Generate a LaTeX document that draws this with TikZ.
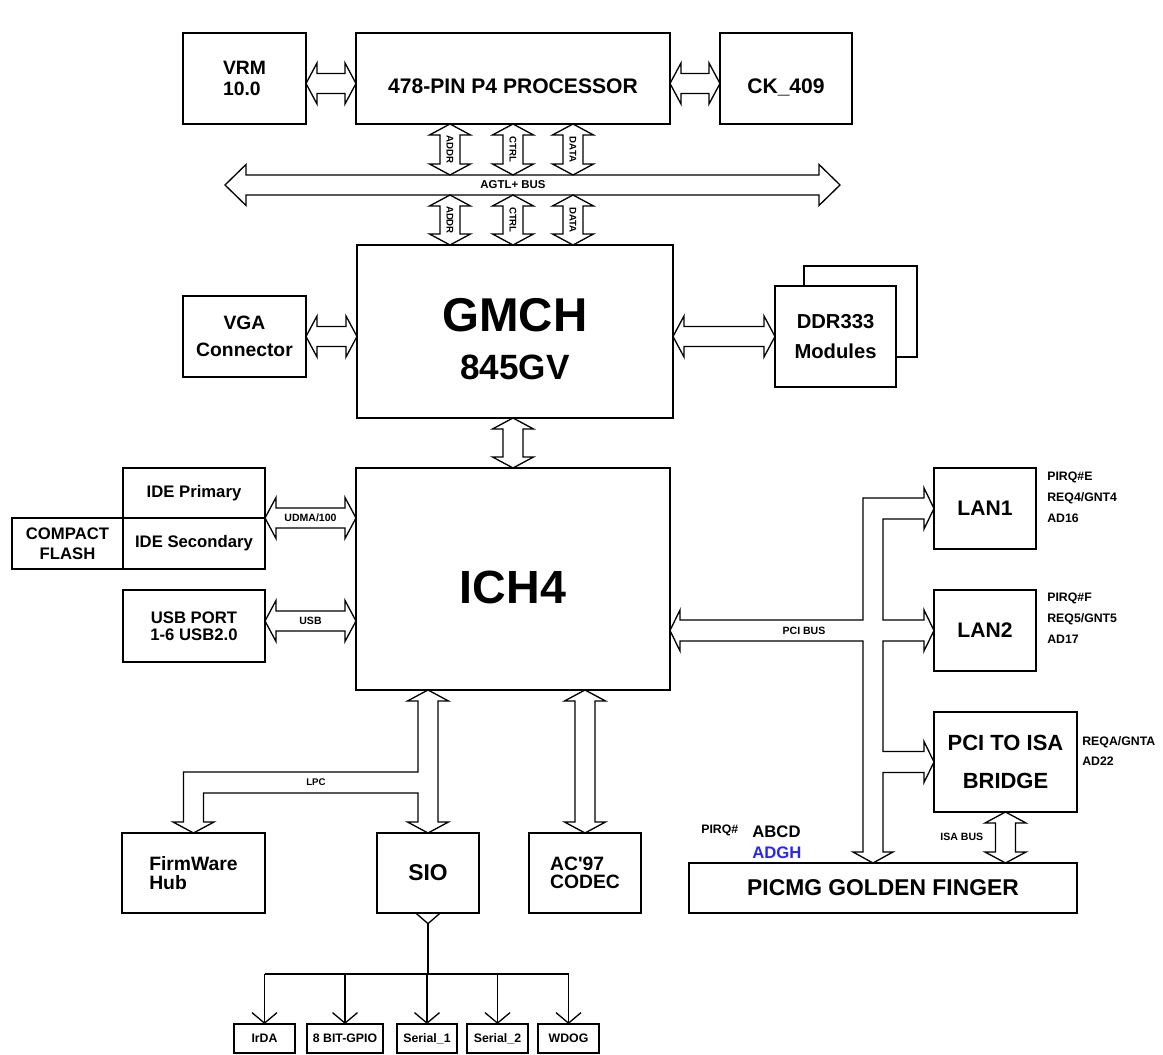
\documentclass[tikz,border=0pt]{standalone}
\usepackage{fontspec}
\setmainfont{Liberation Sans}[Ligatures=TeXOff]
\usetikzlibrary{arrows.meta, positioning, calc}
\definecolor{pinblue}{RGB}{40,40,235}
\newcommand{\fsz}[2]{\fontsize{#1}{#2}\selectfont}
\newcommand{\bushl}{0.22cm}
\newcommand{\busw}{0.2cm}
\newcommand{\busW}{0.41cm}

\begin{document}
\begin{tikzpicture}[
    node distance=1cm,
    box/.style={rectangle, draw=black, line width=0.75pt, fill=white, inner sep=0pt, outer sep=0pt, align=center},
    kid/.style={box, minimum height=0.58cm, font=\bfseries\fsz{7}{8}},
    lbl/.style={inner sep=0pt, font=\bfseries\fsz{6}{7}},
    note/.style={inner sep=0pt, align=left, font=\bfseries\fsz{7}{11.7}},
    hollow/.style={draw=black, line width=0.75pt, fill=white, line join=miter},
    bus head/.code={\def\bushl{#1}},
    bus/.style={hollow, to path={
      (\tikztostart)
      -- ($(\tikztostart)!\bushl!(\tikztotarget)!\busW!90:(\tikztotarget)$)
      -- ($(\tikztostart)!\bushl!(\tikztotarget)!\busw!90:(\tikztotarget)$)
      -- ($(\tikztotarget)!\bushl!(\tikztostart)!\busw!-90:(\tikztostart)$)
      -- ($(\tikztotarget)!\bushl!(\tikztostart)!\busW!-90:(\tikztostart)$)
      -- (\tikztotarget)
      -- ($(\tikztotarget)!\bushl!(\tikztostart)!\busW!90:(\tikztostart)$)
      -- ($(\tikztotarget)!\bushl!(\tikztostart)!\busw!90:(\tikztostart)$)
      -- ($(\tikztostart)!\bushl!(\tikztotarget)!\busw!-90:(\tikztotarget)$)
      -- ($(\tikztostart)!\bushl!(\tikztotarget)!\busW!-90:(\tikztotarget)$)
      -- cycle}},
    fanarrow/.style={line width=0.75pt, -{Straight Barb[length=2.1mm, width=5mm]}}
  ]

  \useasboundingbox (0,0) rectangle (23.26,21.10);

  % processor row
  \node[box, minimum width=2.46cm, minimum height=1.82cm, align=left, font=\bfseries\fsz{11}{11.5}] (vrm) at (4.89,19.53) {VRM\\10.0};
  \node[box, minimum width=6.28cm, minimum height=1.82cm, text height=17pt, text depth=0pt, font=\bfseries\fsz{12}{14}, right=of vrm] (cpu) {478-PIN P4 PROCESSOR};
  \node[box, minimum width=2.64cm, minimum height=1.82cm, text height=17pt, text depth=0pt, font=\bfseries\fsz{12}{14}, right=of cpu] (ck) {CK\_409};

  % north bridge
  \node[box, minimum width=6.32cm, minimum height=3.46cm, text height=55pt, text depth=0pt, font=\bfseries\fsz{20}{27.3}] (gmch) at (10.30,14.47) {{\fsz{27}{27.3}GMCH}\\845GV};
  \node[box, minimum width=2.46cm, minimum height=1.62cm, font=\bfseries\fsz{11}{15}] (vga) at (4.89,14.37) {VGA\\Connector};
  \node[box, minimum width=2.26cm, minimum height=1.82cm] (ddrback) at (17.21,14.87) {};
  \node[box, minimum width=2.42cm, minimum height=2.02cm, font=\bfseries\fsz{11.5}{17}] (ddr) at (16.71,14.37) {DDR333\\Modules};

  % south bridge
  \node[box, minimum width=6.28cm, minimum height=4.44cm, text height=28pt, text depth=0pt, font=\bfseries\fsz{26.5}{30}] (ich) at (10.26,9.52) {ICH4};
  \node[box, minimum width=2.84cm, minimum height=1.0cm, font=\bfseries\fsz{9.5}{11}] (idep) at (3.88,11.24) {IDE Primary};
  \node[box, minimum width=2.84cm, minimum height=1.02cm, font=\bfseries\fsz{9.5}{11}, below=0pt of idep] (ides) {IDE Secondary};
  \node[box, minimum width=2.22cm, minimum height=1.02cm, font=\bfseries\fsz{9.5}{11.5}, left=0pt of ides] (cf) {COMPACT\\FLASH};
  \node[box, minimum width=2.84cm, minimum height=1.44cm, font=\bfseries\fsz{9.5}{9.5}, below=0.42cm of ides] (usb) {USB PORT\\1-6 USB2.0};

  % pci devices
  \node[box, minimum width=2.04cm, minimum height=1.62cm, font=\bfseries\fsz{12}{14}] (lan1) at (19.70,10.93) {LAN1};
  \node[box, minimum width=2.04cm, minimum height=1.62cm, font=\bfseries\fsz{12}{14}, below=0.82cm of lan1] (lan2) {LAN2};
  \node[box, minimum width=2.86cm, minimum height=2.0cm, font=\bfseries\fsz{12.5}{22}, below=0.82cm of lan2.south west, anchor=north west] (bridge) {PCI TO ISA\\BRIDGE};
  \node[box, minimum width=7.76cm, minimum height=1.0cm, font=\bfseries\fsz{13}{15}, below=1.02cm of bridge.south east, anchor=north east] (picmg) {PICMG GOLDEN FINGER};

  % lpc devices
  \node[box, minimum width=2.86cm, minimum height=1.6cm, align=left, font=\bfseries\fsz{11}{10.8}] (fwh) at (3.87,3.64) {FirmWare\\Hub};
  \node[box, minimum width=2.04cm, minimum height=1.6cm, font=\bfseries\fsz{13}{15}, right=2.24cm of fwh] (sio) {SIO};
  \node[box, minimum width=2.24cm, minimum height=1.6cm, align=left, font=\bfseries\fsz{11}{10.3}, right=1cm of sio] (ac97) {AC'97\\CODEC};

  % sio devices
  \node[kid, minimum width=1.22cm] (irda) at (5.29,0.33) {IrDA};
  \node[kid, minimum width=1.52cm, right=0.24cm of irda] (gpio) {8 BIT-GPIO};
  \node[kid, minimum width=1.2cm, right=0.28cm of gpio] (serA) {Serial\_1};
  \node[kid, minimum width=1.22cm, right=0.2cm of serA] (serB) {Serial\_2};
  \node[kid, minimum width=1.22cm, right=0.2cm of serB] (wdog) {WDOG};

  % host bus
  \coordinate (fsb) at ([yshift=-0.1cm]cpu.west);
  \draw[bus] (vrm.east |- fsb) to (fsb);
  \draw[bus] (cpu.east |- fsb) to (ck.west |- fsb);
  \coordinate (agtlW) at (4.50,17.40);
  \coordinate (agtlE) at (16.80,17.40);
  \draw[bus, bus head=0.42cm] (agtlW) to (agtlE);
  \node[lbl, font=\bfseries\fsz{6.5}{7}] at (cpu.south |- agtlW) {AGTL+ BUS};
  \foreach \dx/\sig in {-1.26/ADDR, 0/CTRL, 1.2/DATA} {
    \coordinate (upA) at ([xshift=\dx cm]cpu.south);
    \coordinate (upB) at ([yshift=0.2cm]upA |- agtlW);
    \coordinate (dnA) at ([yshift=-0.2cm]upA |- agtlW);
    \coordinate (dnB) at (upA |- gmch.north);
    \draw[bus] (upA) to (upB);
    \draw[bus] (dnA) to (dnB);
    \node[lbl, rotate=-90, font=\bfseries\fsz{5.5}{6}] at ($(upA)!.5!(upB)$) {\sig};
    \node[lbl, rotate=-90, font=\bfseries\fsz{5.5}{6}] at ($(dnA)!.5!(dnB)$) {\sig};
  }

  % gmch links
  \draw[bus] (vga.east) to (vga.east -| gmch.west);
  \draw[bus] (gmch.east |- ddr.west) to (ddr.west);
  \draw[bus] (ich.north |- gmch.south) to (ich.north);

  % ich links
  \draw[bus] (idep.south east) to (idep.south east -| ich.west);
  \node[lbl] at ($(idep.south east)!.5!(idep.south east -| ich.west)$) {UDMA/100};
  \coordinate (usbp) at ([yshift=0.1cm]usb.east);
  \draw[bus] (usbp) to (usbp -| ich.west);
  \node[lbl] at ($(usbp)!.5!(usbp -| ich.west)$) {USB};
  \draw[bus] (ich.south -| ac97.north) to (ac97.north);
  \draw[bus] (bridge.south) to (bridge.south |- picmg.north);
  \node[lbl, anchor=east] at ($(bridge.south)!.5!(bridge.south |- picmg.north)+(-0.44,0.02)$) {ISA BUS};

  % pci bus
  \coordinate (pcix) at (17.26,0);
  \coordinate (pcii) at (17.66,0);
  \draw[hollow] (ich.east |- lan2.west) -- ++(0.2,0.41) -- ++(0,-0.2)
    -- ($(pcix |- lan2.west)+(0,0.21)$) -- ($(pcix |- lan1.west)+(0,0.21)$)
    -- ($(lan1.west)+(-0.2,0.21)$) -- ++(0,0.2) -- (lan1.west) -- ++(-0.2,-0.41) -- ++(0,0.2)
    -- ($(pcii |- lan1.west)+(0,-0.21)$) -- ($(pcii |- lan2.west)+(0,0.21)$)
    -- ($(lan2.west)+(-0.2,0.21)$) -- ++(0,0.2) -- (lan2.west) -- ++(-0.2,-0.41) -- ++(0,0.2)
    -- ($(pcii |- lan2.west)+(0,-0.21)$) -- ($(pcii |- bridge.west)+(0,0.21)$)
    -- ($(bridge.west)+(-0.2,0.21)$) -- ++(0,0.2) -- (bridge.west) -- ++(-0.2,-0.41) -- ++(0,0.2)
    -- ($(pcii |- bridge.west)+(0,-0.21)$) -- ($(pcii |- picmg.north)+(0,0.22)$) -- ++(0.2,0)
    -- ($(pcix |- picmg.north)+(0.2,0)$) -- ++(-0.4,0.22) -- ++(0.2,0)
    -- ($(pcix |- lan2.west)+(0,-0.21)$) -- ($(ich.east |- lan2.west)+(0.2,-0.21)$) -- ++(0,-0.2) -- cycle;
  \node[lbl] at ($(pcix |- lan2.west)+(-1.18,0)$) {PCI BUS};

  % lpc bus
  \draw[hollow] (ich.south -| sio.north) -- ++(0.41,-0.22) -- ++(-0.21,0)
    -- ($(sio.north)+(0.2,0.22)$) -- ++(0.21,0) -- (sio.north) -- ++(-0.41,0.22) -- ++(0.21,0)
    -- ($(sio.north)+(-0.2,0.8)$) -- ($(fwh.north)+(0.2,0.8)$)
    -- ($(fwh.north)+(0.2,0.22)$) -- ++(0.21,0) -- (fwh.north) -- ++(-0.41,0.22) -- ++(0.21,0)
    -- ($(fwh.north)+(-0.2,1.22)$) -- ($(sio.north)+(-0.2,1.22)$)
    -- ($(ich.south -| sio.north)+(-0.2,-0.22)$) -- ++(-0.21,0) -- cycle;
  \node[lbl, font=\bfseries\fsz{5.5}{6}] at ($(sio.north)+(-2.24,1.01)$) {LPC};

  % sio fan-out
  \coordinate (fan) at (0,1.62);
  \draw[line width=0.75pt, {Straight Barb[reversed, length=2mm, width=4.6mm]}-] (sio.south) -- (sio.south |- fan);
  \draw[line width=0.75pt] (irda.north |- fan) -- (wdog.north |- fan);
  \foreach \k in {irda, gpio, serA, serB, wdog}
    \draw[fanarrow] (\k.north |- fan) -- (\k.north);

  % interrupt notes
  \node[note, anchor=north west] at ($(lan1.north east)+(0.22,-0.08)$) {PIRQ\#E\\REQ4/GNT4\\AD16};
  \node[note, anchor=north west] at ($(lan2.north east)+(0.22,-0.06)$) {PIRQ\#F\\REQ5/GNT5\\AD17};
  \node[note, anchor=north west] at ($(bridge.north east)+(0.1,-0.48)$) {REQA/GNTA\\AD22};
  \node[note, anchor=west] (pirq) at ($(picmg.north west)+(0.24,0.66)$) {PIRQ\#};
  \node[inner sep=0pt, anchor=west, font=\bfseries\fsz{9.5}{11}] (abcd) at ($(picmg.north west)+(1.26,0.62)$) {ABCD};
  \node[inner sep=0pt, anchor=west, text=pinblue, font=\bfseries\fsz{9.5}{11}] (adgh) at ($(picmg.north west)+(1.26,0.20)$) {ADGH};
\end{tikzpicture}
\end{document}
